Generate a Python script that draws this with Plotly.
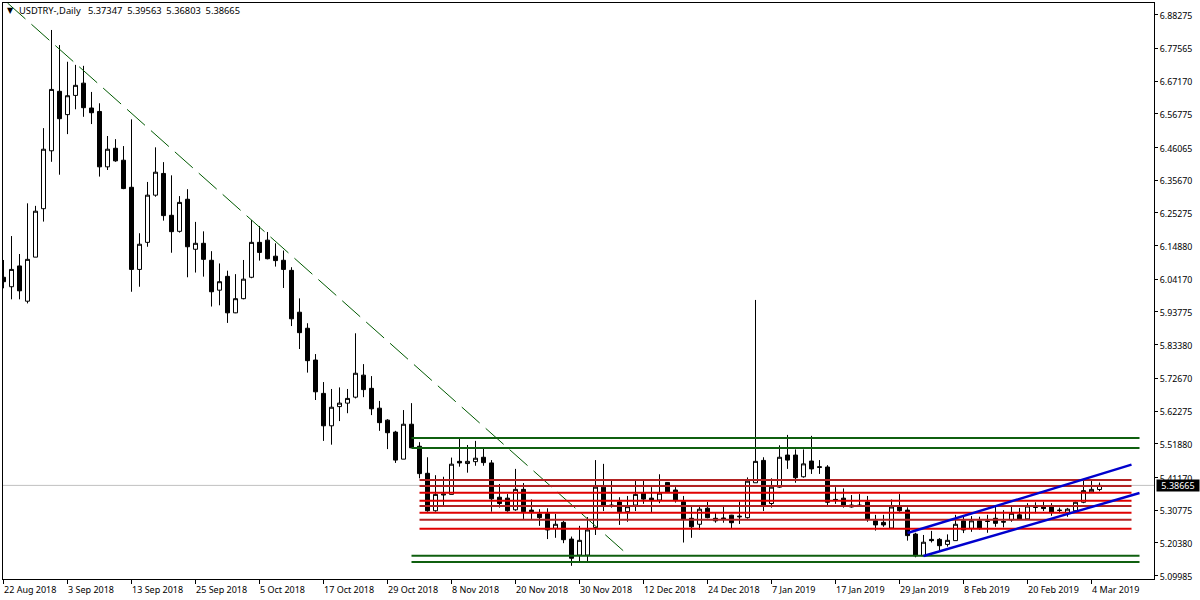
import plotly.graph_objects as go

# daily bars, 22 Aug 2018 onward
open_prices = [
    6.048, 6.018, 6.084, 5.972, 6.112, 6.266, 6.450, 6.639, 6.565, 6.626,
    6.665, 6.586, 6.575, 6.399, 6.458, 6.420, 6.334, 6.073, 6.159, 6.309,
    6.378, 6.245, 6.194, 6.296, 6.137, 6.156, 6.102, 6.007, 6.051, 5.935,
    5.980, 6.048, 6.159, 6.166, 6.115, 6.102, 6.070, 5.937, 5.886, 5.785,
    5.679, 5.576, 5.637, 5.648, 5.667, 5.737, 5.695, 5.632, 5.594, 5.556,
    5.470, 5.581, 5.511, 5.425, 5.306, 5.356, 5.358, 5.463, 5.456, 5.462,
    5.476, 5.458, 5.349, 5.346, 5.309, 5.374, 5.308, 5.296, 5.297, 5.250,
    5.269, 5.216, 5.165, 5.165, 5.253, 5.381, 5.324, 5.334, 5.303, 5.324,
    5.362, 5.346, 5.340, 5.396, 5.372, 5.335, 5.282, 5.263, 5.314, 5.282,
    5.283, 5.292, 5.289, 5.284, 5.395, 5.466, 5.329, 5.381, 5.483, 5.483,
    5.414, 5.464, 5.446, 5.445, 5.342, 5.346, 5.318, 5.324, 5.334, 5.274,
    5.269, 5.251, 5.319, 5.308, 5.232, 5.163, 5.215, 5.215, 5.199, 5.211,
    5.274, 5.250, 5.274, 5.272, 5.282, 5.272, 5.277, 5.293, 5.280, 5.318,
    5.319, 5.319, 5.308, 5.300, 5.306, 5.333, 5.366, 5.37347,
]
high_prices = [
    6.103, 6.179, 6.122, 6.283, 6.275, 6.522, 6.834, 6.786, 6.733, 6.723,
    6.720, 6.637, 6.601, 6.497, 6.487, 6.465, 6.550, 6.188, 6.351, 6.461,
    6.414, 6.372, 6.306, 6.328, 6.224, 6.194, 6.131, 6.092, 6.069, 6.058,
    6.103, 6.230, 6.211, 6.192, 6.156, 6.133, 6.080, 5.981, 5.902, 5.804,
    5.715, 5.693, 5.698, 5.693, 5.870, 5.772, 5.734, 5.655, 5.597, 5.560,
    5.626, 5.648, 5.524, 5.476, 5.419, 5.414, 5.475, 5.536, 5.515, 5.528,
    5.505, 5.467, 5.391, 5.359, 5.439, 5.394, 5.342, 5.311, 5.314, 5.296,
    5.274, 5.224, 5.258, 5.286, 5.467, 5.455, 5.402, 5.349, 5.353, 5.402,
    5.402, 5.381, 5.422, 5.397, 5.381, 5.353, 5.319, 5.319, 5.334, 5.299,
    5.319, 5.293, 5.335, 5.412, 5.976, 5.476, 5.409, 5.514, 5.547, 5.501,
    5.501, 5.544, 5.467, 5.451, 5.381, 5.377, 5.356, 5.359, 5.353, 5.293,
    5.293, 5.342, 5.359, 5.317, 5.236, 5.229, 5.242, 5.219, 5.231, 5.293,
    5.287, 5.289, 5.287, 5.293, 5.319, 5.308, 5.318, 5.315, 5.330, 5.333,
    5.335, 5.330, 5.316, 5.315, 5.335, 5.404, 5.404, 5.39563,
]
low_prices = [
    6.013, 5.978, 5.978, 5.965, 6.112, 6.225, 6.415, 6.374, 6.503, 6.582,
    6.558, 6.535, 6.368, 6.389, 6.415, 6.328, 6.002, 6.018, 6.145, 6.304,
    6.228, 6.126, 6.190, 6.048, 6.063, 6.050, 5.955, 5.959, 5.903, 5.934,
    5.978, 6.045, 6.101, 6.105, 6.082, 6.014, 5.893, 5.820, 5.745, 5.658,
    5.528, 5.516, 5.591, 5.616, 5.663, 5.667, 5.610, 5.560, 5.502, 5.458,
    5.470, 5.506, 5.409, 5.303, 5.303, 5.322, 5.358, 5.446, 5.427, 5.449,
    5.449, 5.303, 5.316, 5.303, 5.306, 5.280, 5.280, 5.258, 5.216, 5.220,
    5.203, 5.131, 5.145, 5.145, 5.229, 5.305, 5.316, 5.261, 5.271, 5.305,
    5.328, 5.301, 5.330, 5.366, 5.332, 5.205, 5.220, 5.245, 5.282, 5.268,
    5.268, 5.250, 5.264, 5.281, 5.395, 5.305, 5.316, 5.379, 5.439, 5.395,
    5.411, 5.423, 5.423, 5.324, 5.328, 5.316, 5.316, 5.321, 5.271, 5.243,
    5.255, 5.250, 5.303, 5.211, 5.158, 5.162, 5.205, 5.179, 5.192, 5.211,
    5.235, 5.239, 5.245, 5.236, 5.255, 5.253, 5.271, 5.277, 5.277, 5.298,
    5.305, 5.290, 5.298, 5.287, 5.303, 5.330, 5.363, 5.36803,
]
close_prices = [
    6.034, 6.073, 6.005, 6.105, 6.258, 6.455, 6.645, 6.552, 6.625, 6.658,
    6.587, 6.571, 6.399, 6.455, 6.418, 6.330, 6.073, 6.153, 6.309, 6.382,
    6.244, 6.193, 6.286, 6.145, 6.156, 6.105, 6.002, 6.034, 5.935, 5.980,
    6.042, 6.159, 6.127, 6.107, 6.101, 6.073, 5.916, 5.872, 5.783, 5.684,
    5.576, 5.635, 5.648, 5.663, 5.743, 5.691, 5.630, 5.586, 5.554, 5.467,
    5.581, 5.506, 5.424, 5.306, 5.358, 5.359, 5.454, 5.458, 5.463, 5.473,
    5.459, 5.344, 5.329, 5.306, 5.374, 5.303, 5.303, 5.284, 5.245, 5.263,
    5.214, 5.155, 5.212, 5.245, 5.381, 5.324, 5.321, 5.303, 5.319, 5.358,
    5.343, 5.340, 5.362, 5.366, 5.340, 5.280, 5.255, 5.311, 5.284, 5.274,
    5.279, 5.268, 5.287, 5.400, 5.463, 5.324, 5.381, 5.476, 5.467, 5.411,
    5.455, 5.439, 5.444, 5.333, 5.340, 5.323, 5.324, 5.322, 5.279, 5.261,
    5.261, 5.318, 5.306, 5.227, 5.163, 5.206, 5.211, 5.195, 5.212, 5.263,
    5.245, 5.274, 5.250, 5.273, 5.266, 5.270, 5.298, 5.279, 5.321, 5.317,
    5.313, 5.301, 5.307, 5.311, 5.333, 5.370, 5.374, 5.38665,
]
bars = list(range(len(close_prices)))

date_ticks = [0, 8, 16, 24, 32, 40, 48, 56, 64, 72, 80, 88, 96, 104, 112, 120, 128, 136]
date_labels = [
    "22 Aug 2018", "3 Sep 2018", "13 Sep 2018", "25 Sep 2018", "5 Oct 2018", "17 Oct 2018",
    "29 Oct 2018", "8 Nov 2018", "20 Nov 2018", "30 Nov 2018", "12 Dec 2018", "24 Dec 2018",
    "7 Jan 2019", "17 Jan 2019", "29 Jan 2019", "8 Feb 2019", "20 Feb 2019", "4 Mar 2019",
]
price_ticks = [
    6.88275, 6.77565, 6.67170, 6.56775, 6.46065, 6.35670, 6.25275, 6.14880, 6.04170,
    5.93775, 5.83380, 5.72670, 5.62275, 5.51880, 5.41170, 5.30775, 5.20380, 5.09985,
]
price_labels = ["%.5f" % p for p in price_ticks]
last_price = 5.38665

# objects drawn on the chart: price levels and bar spans
green_levels = [5.5373, 5.5055, 5.1632, 5.1432]
green_span = [51, 142]
firebrick_levels = [5.4038, 5.3847, 5.3211, 5.2773]
red_levels = [5.3631, 5.3380, 5.2995, 5.2487]
red_span = [52, 141]
trend_bars = [0.5, 77.6]
trend_prices = [6.9197, 5.1760]
channel_top_bars = [113, 141]
channel_top_prices = [5.2353, 5.4524]
channel_low_bars = [115, 142]
channel_low_prices = [5.1622, 5.3624]

FONT = "Noto Sans"

fig = go.Figure()

fig.add_trace(go.Candlestick(
    x=bars, open=open_prices, high=high_prices, low=low_prices, close=close_prices,
    increasing=dict(line=dict(color="black", width=1), fillcolor="white"),
    decreasing=dict(line=dict(color="black", width=1), fillcolor="black"),
    whiskerwidth=0,
    showlegend=False,
))


def add_line(xs, ys, color, width=2, dash="solid"):
    fig.add_trace(go.Scatter(
        x=xs, y=ys, mode="lines", line=dict(color=color, width=width, dash=dash),
        hoverinfo="skip", showlegend=False,
    ))


add_line(trend_bars, trend_prices, "#005a00", width=1, dash="24px,8px")
for level in green_levels:
    add_line(green_span, [level, level], "#0f5f0f")
for level in firebrick_levels:
    add_line(red_span, [level, level], "#b22222")
for level in red_levels:
    add_line(red_span, [level, level], "#e00000")
add_line(channel_top_bars, channel_top_prices, "#0000cd", width=2.4)
add_line(channel_low_bars, channel_low_prices, "#0000cd", width=2.4)

header = "USDTRY-,Daily\u00a0\u00a0 5.37347 \u00a05.39563 \u00a05.36803 \u00a05.38665"
annotations = [
    dict(xref="paper", yref="paper", x=0, y=1, xshift=2, yshift=-7, xanchor="left", yanchor="middle",
         text="▼", showarrow=False, font=dict(family="DejaVu Sans", size=8, color="black")),
    dict(xref="paper", yref="paper", x=0, y=1, xshift=15, yshift=-7, xanchor="left", yanchor="middle",
         text=header, showarrow=False, borderpad=0,
         font=dict(family=FONT, size=9.3, color="black")),
    dict(xref="paper", yref="y", x=1, y=last_price, xshift=2, xanchor="left", yanchor="middle",
         text="%.5f" % last_price, showarrow=False, bgcolor="black", borderpad=0,
         width=42, height=11, font=dict(family=FONT, size=9, color="white")),
]
# MT4 date labels start at the tick instead of being centred on it
for bar, label in zip(date_ticks, date_labels):
    annotations.append(dict(
        xref="x", yref="paper", x=bar, y=0, xshift=-1, yshift=-10, xanchor="left", yanchor="middle",
        text=label, showarrow=False, borderpad=0, font=dict(family=FONT, size=9, color="black"),
    ))

fig.update_layout(
    width=1200,
    height=600,
    margin=dict(l=3, r=46, t=3, b=21, pad=0),
    paper_bgcolor="white",
    plot_bgcolor="white",
    boxgap=0.5,
    boxgroupgap=0,
    hovermode=False,
    showlegend=False,
    annotations=annotations,
    shapes=[dict(type="line", xref="paper", yref="y", x0=0, x1=1, y0=last_price, y1=last_price,
                 line=dict(color="#c0c0c0", width=1), layer="below")],
    xaxis=dict(
        range=[-0.0625, 143.8125],
        rangeslider=dict(visible=False),
        tickmode="array", tickvals=date_ticks, showticklabels=False,
        ticks="outside", ticklen=4, tickwidth=1, tickcolor="black",
        showgrid=False, zeroline=False,
        showline=True, linecolor="black", linewidth=1, mirror=True,
    ),
    yaxis=dict(
        side="right",
        range=[5.0891, 6.9197],
        tickmode="array", tickvals=price_ticks, ticktext=price_labels,
        ticks="outside", ticklen=3, tickwidth=1, tickcolor="black",
        ticklabelshift=1,
        tickfont=dict(family=FONT, size=8.8, color="black"),
        showgrid=False, zeroline=False,
        showline=True, linecolor="black", linewidth=1, mirror=True,
    ),
)

# the page's default 8px body margin would push the chart off the 1200x600 window
fig.write_html("out.html", config={"displayModeBar": False}, post_script="document.body.style.margin='0';")
